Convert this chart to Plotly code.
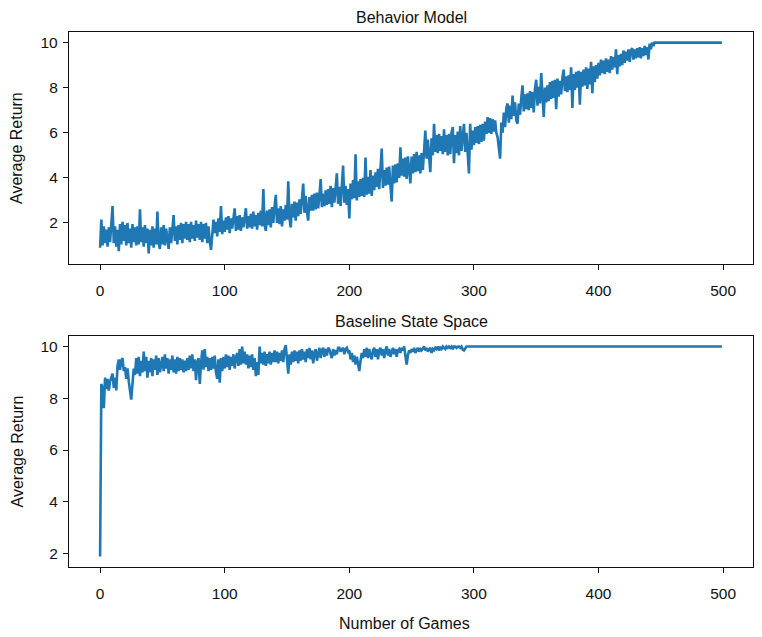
import plotly.graph_objects as go

# average return per game
behavior_return = [
    0.90, 2.15, 1.00, 1.85, 1.10, 1.70, 0.95, 1.80, 1.15, 2.00,
    2.75, 1.10, 1.85, 0.95, 1.70, 0.75, 1.95, 1.05, 2.05, 1.20,
    1.90, 1.00, 2.00, 1.10, 1.75, 0.90, 1.95, 1.15, 1.80, 1.00,
    1.85, 1.05, 2.60, 1.15, 1.80, 0.95, 1.90, 1.10, 1.75, 0.65,
    1.70, 1.00, 1.85, 0.90, 1.75, 1.05, 2.50, 1.10, 0.85, 1.80,
    1.05, 1.90, 1.00, 1.75, 1.15, 0.85, 1.80, 1.10, 1.70, 2.35,
    1.20, 1.85, 1.05, 1.90, 1.25, 2.00, 1.10, 1.95, 1.30, 2.05,
    1.25, 1.95, 1.15, 2.05, 1.30, 1.90, 1.20, 2.10, 1.35, 1.95,
    1.25, 2.05, 1.15, 1.95, 1.30, 2.00, 1.10, 1.85, 1.20, 0.80,
    1.45, 2.15, 1.55, 2.05, 1.40, 2.20, 1.60, 2.75, 1.50, 2.10,
    1.60, 2.25, 1.70, 2.30, 1.55, 2.20, 1.75, 2.35, 2.65, 1.65,
    2.30, 1.70, 2.35, 1.65, 2.25, 1.80, 2.40, 2.65, 1.75, 2.30,
    1.80, 2.40, 1.75, 2.50, 1.85, 2.35, 1.70, 2.45, 1.90, 2.55,
    1.85, 3.50, 1.90, 1.65, 2.55, 1.90, 2.60, 1.80, 2.70, 2.00,
    2.70, 3.25, 2.00, 2.65, 1.95, 2.75, 1.85, 2.60, 2.10, 2.80,
    2.15, 3.85, 2.20, 1.80, 2.85, 2.25, 2.95, 2.10, 2.90, 2.30,
    3.05, 2.40, 3.10, 3.75, 2.45, 3.20, 2.50, 2.10, 3.15, 2.55,
    3.25, 2.55, 3.30, 2.60, 3.35, 2.65, 3.20, 3.95, 2.70, 3.30,
    2.75, 3.45, 2.80, 3.50, 2.85, 3.65, 2.70, 3.55, 2.90, 3.40,
    4.20, 2.85, 3.60, 2.75, 3.70, 4.55, 2.90, 3.65, 2.80, 3.50,
    2.20, 3.75, 3.05, 3.90, 3.10, 5.05, 3.00, 3.85, 3.15, 3.95,
    3.20, 4.00, 3.15, 4.90, 3.25, 4.05, 3.30, 4.35, 3.20, 4.10,
    3.45, 4.25, 3.60, 4.40, 3.50, 4.30, 5.30, 3.55, 4.35, 3.65,
    4.45, 3.70, 4.50, 3.65, 2.95, 4.55, 3.75, 4.60, 3.80, 4.65,
    4.00, 5.35, 4.10, 4.85, 4.05, 4.90, 3.95, 4.95, 4.15, 3.75,
    4.95, 4.20, 5.05, 4.25, 5.15, 4.30, 5.00, 4.20, 5.10, 4.35,
    5.20, 6.10, 4.85, 5.70, 4.95, 4.25, 5.75, 5.00, 6.40, 5.15,
    5.90, 5.10, 5.95, 5.20, 5.85, 5.05, 6.15, 5.15, 5.90, 5.00,
    5.95, 5.05, 6.00, 6.25, 4.65, 5.90, 5.10, 6.05, 5.00, 6.30,
    5.20, 6.05, 6.40, 5.15, 6.00, 5.10, 4.20, 6.40, 5.25, 6.10,
    5.45, 6.25, 5.55, 6.30, 5.50, 6.35, 5.60, 6.40, 5.65, 6.50,
    5.95, 6.70, 6.00, 6.65, 5.95, 6.60, 6.05, 6.55, 6.00, 5.80,
    5.30, 4.85, 6.45, 6.00, 6.90, 6.25, 7.10, 7.30, 6.45, 7.20,
    6.60, 7.65, 6.75, 7.35, 6.55, 6.40, 7.30, 6.80, 7.55, 8.10,
    6.95, 7.70, 7.05, 7.75, 7.00, 7.85, 7.10, 7.80, 6.90, 7.95,
    8.35, 7.20, 8.05, 7.30, 8.65, 7.40, 6.70, 8.00, 7.35, 8.10,
    7.40, 8.25, 7.50, 8.30, 7.55, 8.35, 7.05, 8.40, 7.60, 8.30,
    7.70, 8.45, 8.80, 7.85, 8.50, 7.80, 8.55, 7.90, 8.90, 7.10,
    8.60, 7.90, 8.70, 8.00, 8.75, 7.25, 8.70, 8.05, 8.80, 8.10,
    8.90, 7.95, 8.85, 8.15, 9.15, 7.75, 8.95, 8.25, 9.00, 8.40,
    9.10, 8.55, 9.25, 8.65, 9.20, 8.60, 9.30, 8.70, 9.25, 8.65,
    9.40, 8.80, 9.35, 8.90, 9.70, 8.60, 9.45, 8.95, 9.50, 9.00,
    9.65, 9.10, 9.60, 9.20, 9.70, 9.15, 9.65, 9.75, 9.25, 9.70,
    9.30, 9.75, 9.35, 9.80, 9.30, 9.75, 9.40, 9.85, 9.45, 9.80,
    9.25, 9.95, 9.70, 10.0, 9.85, 10.0, 10.0,
] + [10.0] * 53

baseline_return = [
    1.89, 8.55, 8.40, 7.62, 8.80, 8.35, 8.75, 8.30, 8.65, 8.85,
    8.95, 8.40, 8.80, 8.30, 9.25, 9.50, 9.10, 9.45, 9.55, 9.05,
    9.20, 8.75, 9.15, 8.65, 8.30, 7.95, 8.55, 9.15, 8.90, 9.55,
    8.95, 9.60, 8.85, 9.45, 9.00, 9.80, 9.05, 9.60, 8.80, 9.45,
    9.00, 9.55, 8.85, 9.50, 9.10, 9.65, 8.90, 9.55, 9.00, 9.40,
    9.60, 9.05, 9.70, 9.15, 9.55, 8.95, 9.50, 9.10, 9.65, 9.00,
    9.50, 8.95, 9.60, 9.05, 9.55, 9.10, 9.50, 9.00, 9.45, 9.05,
    9.55, 9.10, 9.65, 9.15, 9.70, 9.05, 9.50, 8.70, 9.40, 9.55,
    8.55, 9.35, 9.85, 9.10, 9.90, 9.20, 9.60, 9.05, 9.55, 9.10,
    9.60, 9.15, 9.65, 9.00, 8.75, 9.50, 8.60, 9.55, 9.05, 9.60,
    9.15, 9.70, 9.20, 9.65, 9.10, 9.60, 9.25, 9.70, 9.15, 9.55,
    9.75, 9.25, 9.90, 9.30, 10.00, 9.35, 9.80, 9.30, 9.70, 9.15,
    9.65, 9.20, 9.70, 9.10, 9.55, 8.85, 9.40, 8.90, 10.00, 9.35,
    9.75, 9.30, 9.80, 9.25, 9.70, 9.35, 9.80, 9.30, 9.75, 9.40,
    9.85, 9.40, 9.80, 9.35, 9.75, 9.45, 9.85, 9.40, 9.90, 10.05,
    9.40, 8.95, 9.70, 9.30, 9.80, 9.40, 9.85, 9.45, 9.80, 9.35,
    9.85, 9.45, 9.90, 9.50, 9.80, 9.40, 9.90, 9.55, 9.95, 9.50,
    9.85, 9.35, 9.75, 9.90, 9.45, 9.80, 9.95, 9.55, 9.85, 9.95,
    9.60, 9.90, 9.65, 9.95, 9.90, 9.70, 9.55, 9.90, 9.65, 9.85,
    9.70, 9.95, 9.95, 9.80, 9.90, 9.95, 9.70, 9.90, 9.95, 9.80,
    9.85, 9.50, 9.75, 9.40, 9.65, 9.30, 9.60, 9.25, 9.05, 9.45,
    9.75, 9.55, 9.90, 9.60, 9.95, 9.55, 9.90, 9.65, 9.50, 9.85,
    9.95, 9.60, 9.90, 9.50, 9.85, 9.95, 9.65, 9.90, 9.55, 9.85,
    10.00, 9.65, 9.90, 9.60, 9.85, 9.95, 9.70, 9.90, 9.60, 9.85,
    9.90, 9.75, 9.95, 9.85, 10.00, 9.70, 9.30, 9.65, 9.85, 9.75,
    9.90, 9.80, 9.95, 9.75, 9.85, 9.95, 9.80, 9.90, 9.85, 9.95,
    10.00, 9.85, 9.95, 9.80, 9.90, 9.95, 9.75, 9.90, 9.85, 9.95,
    9.90, 10.00, 9.85, 9.95, 9.90, 10.00, 9.95, 9.90, 10.00, 9.95,
    10.00, 9.95, 10.00, 9.90, 10.00, 10.00, 9.95, 10.00, 10.00, 9.95,
    10.00, 9.88, 9.85, 9.95, 10.00,
] + [10.0] * 205

games = list(range(len(behavior_return)))

x_ticks = [0, 100, 200, 300, 400, 500]
y_ticks = [2, 4, 6, 8, 10]

ink = "#111111"
font = dict(family="Liberation Sans, Arial, sans-serif", size=15.5, color=ink)
title_font = dict(family="Liberation Sans, Arial, sans-serif", size=16, color=ink)

axis_style = dict(
    showline=True,
    linecolor=ink,
    linewidth=1.3,
    mirror=True,
    ticks="outside",
    ticklen=5,
    tickwidth=1.3,
    tickcolor=ink,
    showgrid=False,
    zeroline=False,
    automargin=False,
    tickfont=font,
)
x_style = dict(axis_style, range=[-24.95, 523.95], tickvals=x_ticks, ticklabelstandoff=7)
y_style = dict(axis_style, tickvals=y_ticks, ticklabelstandoff=2)

# the page body adds an 8px margin, so the figure is 8px smaller and the
# left/top margins are 8px less than the target picture
fig = go.Figure(
    layout=go.Layout(
        width=754,
        height=629,
        font=font,
        showlegend=False,
        plot_bgcolor="white",
        paper_bgcolor="white",
        margin=dict(l=61, r=9, t=24, b=70),
        xaxis=dict(x_style, domain=[0, 1], anchor="y"),
        yaxis=dict(y_style, domain=[0.5664, 1], anchor="x", range=[0.18, 10.47]),
        xaxis2=dict(x_style, domain=[0, 1], anchor="y2"),
        yaxis2=dict(y_style, domain=[0, 0.432], anchor="x2", range=[1.48, 10.41]),
        annotations=[
            dict(text="Behavior Model", x=0.5, y=1.028, xref="paper", yref="paper",
                 showarrow=False, yanchor="middle", font=title_font),
            dict(text="Baseline State Space", x=0.5, y=0.4598, xref="paper", yref="paper",
                 showarrow=False, yanchor="middle", font=title_font),
            dict(text="Average Return", x=-0.076, y=0.7832, xref="paper", yref="paper",
                 textangle=-90, showarrow=False, xanchor="center", yanchor="middle", font=title_font),
            dict(text="Average Return", x=-0.076, y=0.216, xref="paper", yref="paper",
                 textangle=-90, showarrow=False, xanchor="center", yanchor="middle", font=title_font),
            dict(text="Number of Games", x=0.49, y=-0.1047, xref="paper", yref="paper",
                 showarrow=False, xanchor="center", yanchor="middle", font=title_font),
        ],
    ),
    data=[
        go.Scatter(x=games, y=behavior_return, mode="lines", xaxis="x", yaxis="y",
                   line=dict(color="#1f77b4", width=2.6)),
        go.Scatter(x=games, y=baseline_return, mode="lines", xaxis="x2", yaxis="y2",
                   line=dict(color="#1f77b4", width=2.6)),
    ],
)

fig.write_html("out.html")
